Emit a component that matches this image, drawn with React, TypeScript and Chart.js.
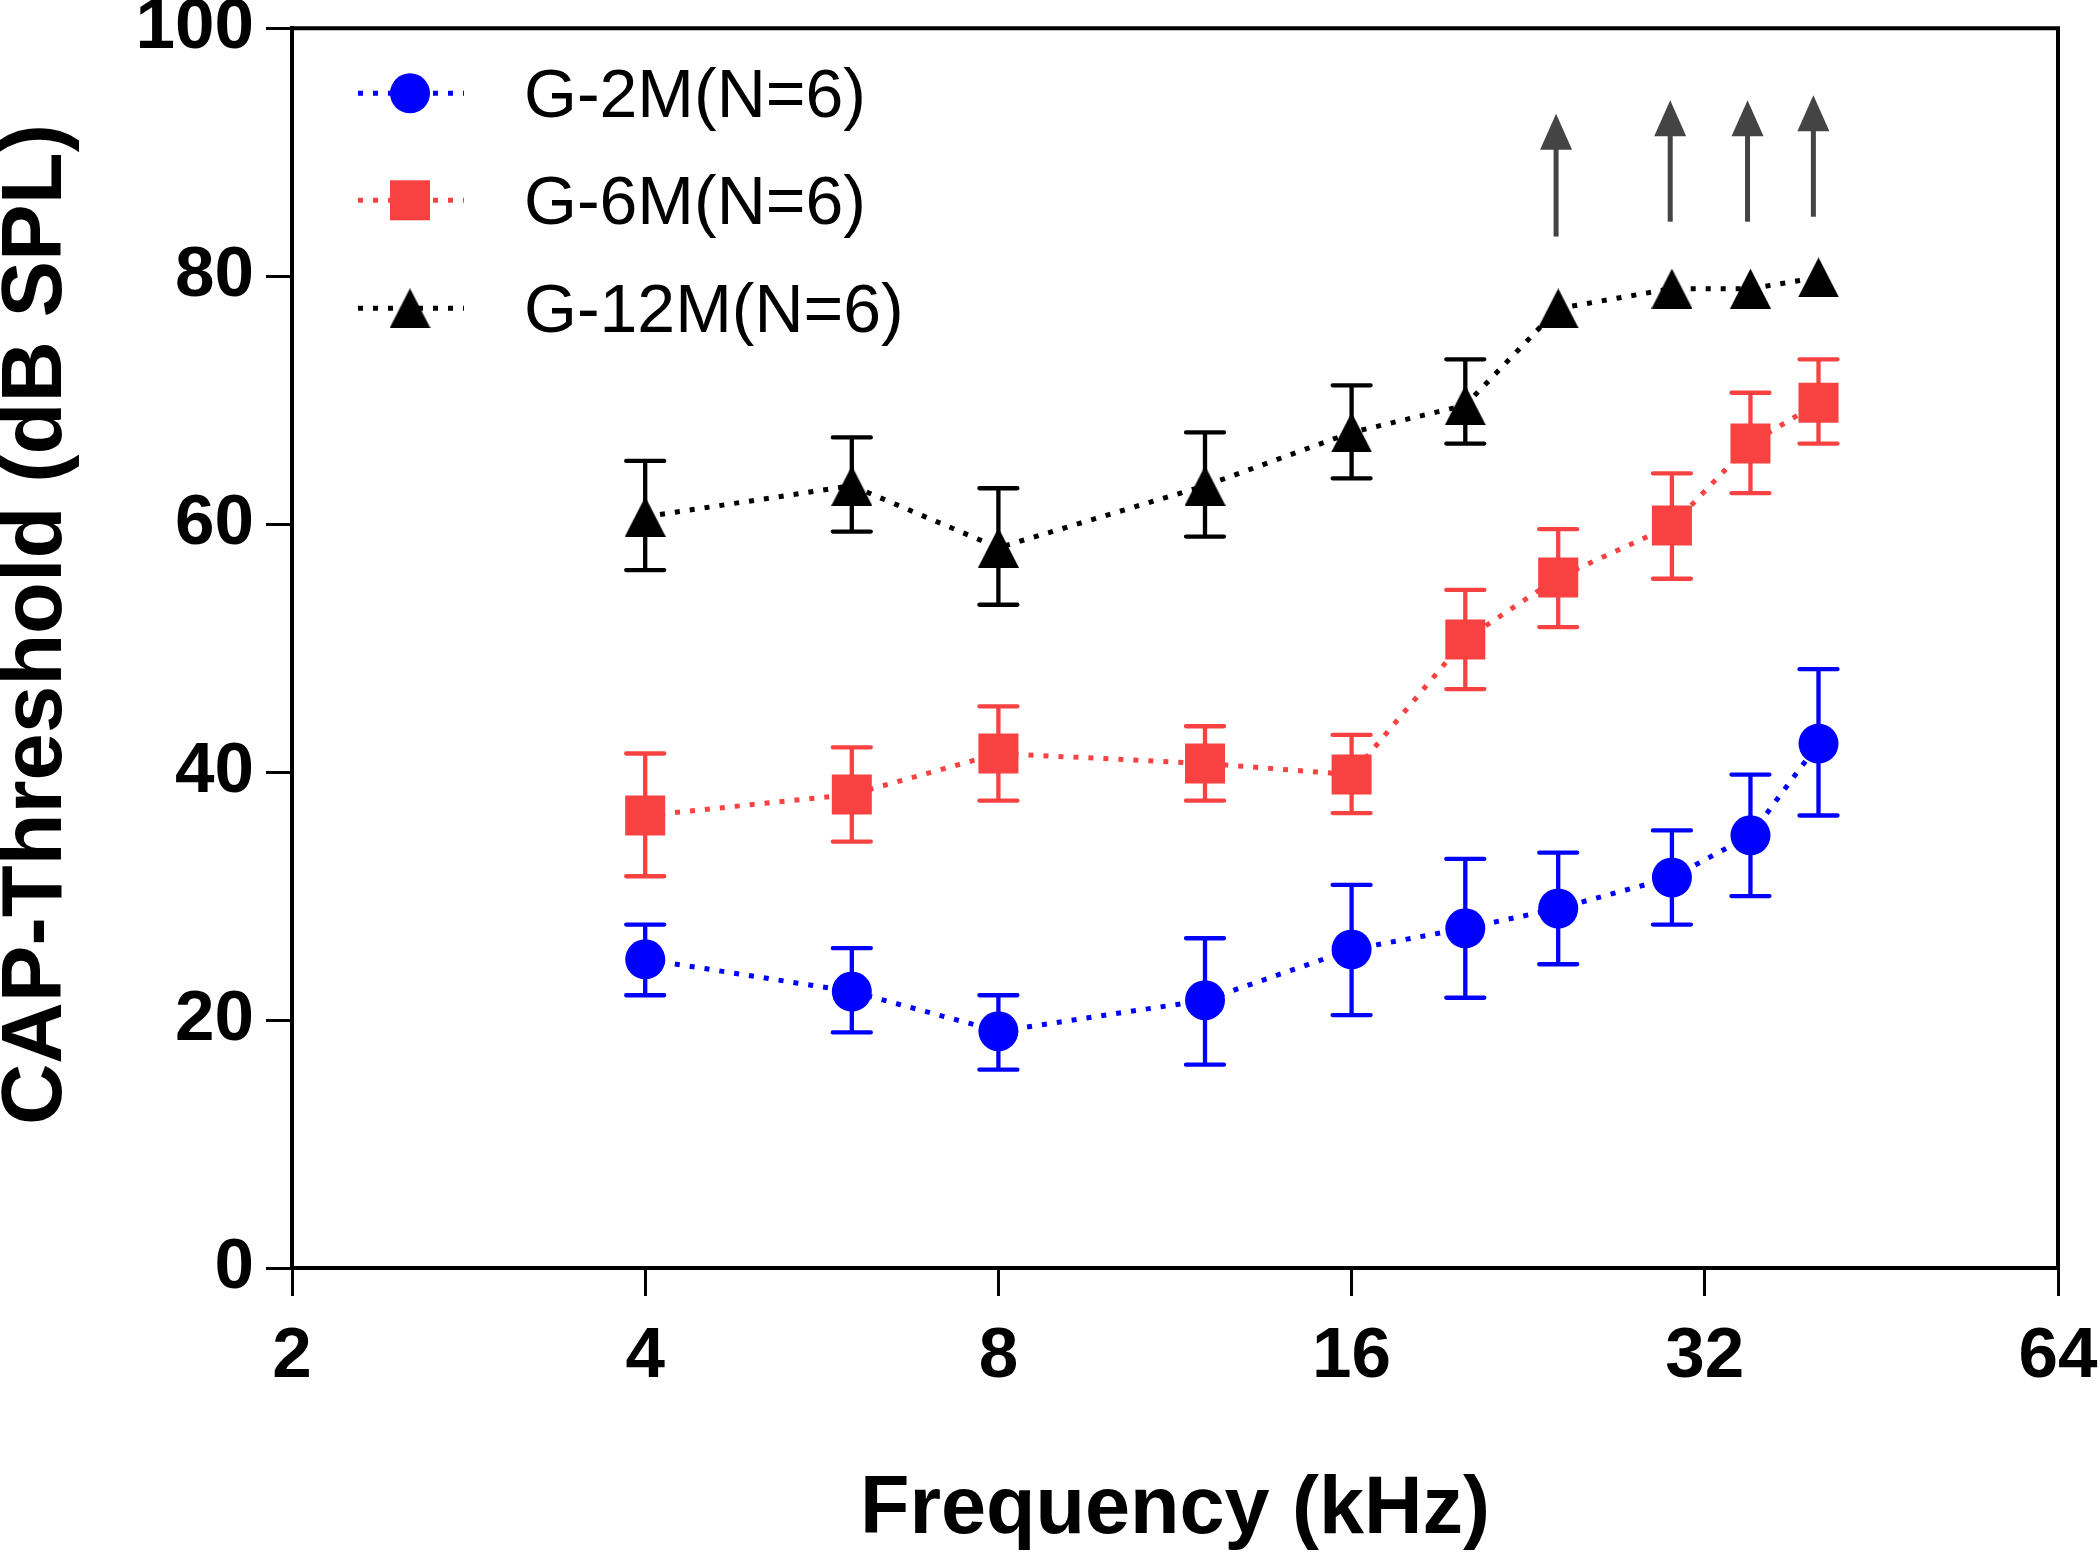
import React, { useEffect, useRef } from "react";
import { Chart, registerables } from "chart.js";

Chart.register(...registerables);

// ---------- data ----------
const frequencies = [4, 6, 8, 12, 16, 20, 24, 30, 35, 40];
const xTicks = [2, 4, 8, 16, 32, 64];
const yTicks = [0, 20, 40, 60, 80, 100];

const seriesLabels = ["G-2M(N=6)", "G-6M(N=6)", "G-12M(N=6)"];

const g2mMean = [24.9, 22.3, 19.1, 21.6, 25.7, 27.4, 29.0, 31.5, 34.9, 42.3];
const g2mHigh = [27.7, 25.8, 22.0, 26.6, 30.9, 33.0, 33.5, 35.3, 39.8, 48.3];
const g2mLow = [22.0, 19.0, 16.0, 16.4, 20.4, 21.8, 24.5, 27.7, 30.0, 36.5];

const g6mMean = [36.5, 38.2, 41.5, 40.7, 39.8, 50.7, 55.7, 59.9, 66.5, 69.8];
const g6mHigh = [41.5, 42.0, 45.3, 43.7, 43.0, 54.7, 59.6, 64.1, 70.6, 73.3];
const g6mLow = [31.6, 34.4, 37.7, 37.7, 36.7, 46.7, 51.7, 55.6, 62.5, 66.5];

const g12mMean = [60.6, 63.1, 58.1, 63.1, 67.4, 69.6, 77.4, 79.0, 79.0, 79.9];
const g12mHigh = [65.1, 67.0, 62.9, 67.4, 71.2, 73.3, null, null, null, null];
const g12mLow = [56.3, 59.4, 53.5, 59.0, 63.7, 66.5, null, null, null, null];

// upward arrows (threshold above measurable range)
const arrowFreq = [23.9, 29.9, 34.8, 39.6];
const arrowBase = [83.2, 84.4, 84.4, 84.8];
const arrowTip = [93.1, 94.2, 94.2, 94.6];

const BLUE = "#0000FF";
const RED = "#F84242";
const BLACK = "#000000";
const ARROW = "#444444";
const FONT = "'Liberation Sans', Arial, sans-serif";

function makeTriangle(): HTMLCanvasElement {
  const c = document.createElement("canvas");
  c.width = 41;
  c.height = 40;
  const g = c.getContext("2d")!;
  g.fillStyle = BLACK;
  g.beginPath();
  g.moveTo(20.5, 0);
  g.lineTo(41, 40);
  g.lineTo(0, 40);
  g.closePath();
  g.fill();
  return c;
}

const errorBarPlugin = {
  id: "errorBars",
  beforeDatasetsDraw(chart: any) {
    const { ctx, scales } = chart;
    const x = scales.x;
    const y = scales.y;
    chart.data.datasets.forEach((ds: any) => {
      ctx.save();
      ctx.strokeStyle = ds.borderColor;
      ctx.lineWidth = 4.3;
      ctx.lineCap = "round";
      frequencies.forEach((f, i) => {
        const hi = ds.errHigh[i];
        const lo = ds.errLow[i];
        if (hi == null || lo == null) return;
        const px = x.getPixelForValue(f);
        const yh = y.getPixelForValue(hi);
        const yl = y.getPixelForValue(lo);
        const cap = 19;
        ctx.beginPath();
        ctx.moveTo(px, yh);
        ctx.lineTo(px, yl);
        ctx.moveTo(px - cap, yh);
        ctx.lineTo(px + cap, yh);
        ctx.moveTo(px - cap, yl);
        ctx.lineTo(px + cap, yl);
        ctx.stroke();
      });
      ctx.restore();
    });
  },
};

const arrowPlugin = {
  id: "arrows",
  afterDatasetsDraw(chart: any) {
    const { ctx, scales } = chart;
    const x = scales.x;
    const y = scales.y;
    ctx.save();
    ctx.strokeStyle = ARROW;
    ctx.fillStyle = ARROW;
    ctx.lineWidth = 5;
    arrowFreq.forEach((f, i) => {
      const px = x.getPixelForValue(f);
      const yb = y.getPixelForValue(arrowBase[i]);
      const yt = y.getPixelForValue(arrowTip[i]);
      const headLen = 36;
      const headHalf = 16;
      ctx.beginPath();
      ctx.moveTo(px, yb);
      ctx.lineTo(px, yt + headLen - 1);
      ctx.stroke();
      ctx.beginPath();
      ctx.moveTo(px, yt);
      ctx.lineTo(px + headHalf, yt + headLen);
      ctx.lineTo(px - headHalf, yt + headLen);
      ctx.closePath();
      ctx.fill();
    });
    ctx.restore();
  },
};

const framePlugin = {
  id: "frame",
  afterDraw(chart: any) {
    const { ctx, chartArea } = chart;
    ctx.save();
    ctx.strokeStyle = BLACK;
    ctx.lineWidth = 4;
    ctx.beginPath();
    ctx.moveTo(chartArea.left - 2, chartArea.top);
    ctx.lineTo(chartArea.right, chartArea.top);
    ctx.lineTo(chartArea.right, chartArea.bottom);
    ctx.stroke();
    ctx.restore();
  },
};

const legendPlugin = {
  id: "customLegend",
  afterDraw(chart: any) {
    const { ctx, chartArea } = chart;
    const rows = [65, 172, 280];
    ctx.save();
    chart.data.datasets.forEach((ds: any, i: number) => {
      const cy = chartArea.top + rows[i];
      const x0 = chartArea.left + 66;
      const x1 = chartArea.left + 172;
      const mx = chartArea.left + 118;
      ctx.strokeStyle = ds.borderColor;
      ctx.lineWidth = 5;
      ctx.setLineDash([5, 10]);
      ctx.beginPath();
      ctx.moveTo(x0, cy);
      ctx.lineTo(x1, cy);
      ctx.stroke();
      ctx.setLineDash([]);
      ctx.fillStyle = ds.backgroundColor;
      const ps = ds.pointStyle;
      if (ps === "circle") {
        ctx.beginPath();
        ctx.arc(mx, cy, 20, 0, Math.PI * 2);
        ctx.fill();
      } else if (ps === "rect") {
        ctx.fillRect(mx - 20, cy - 20, 40, 40);
      } else if (ps && typeof ps === "object") {
        ctx.drawImage(ps, mx - ps.width / 2, cy - ps.height / 2);
      }
      ctx.fillStyle = BLACK;
      ctx.font = `68px ${FONT}`;
      ctx.textAlign = "left";
      ctx.textBaseline = "alphabetic";
      ctx.fillText(ds.label, chartArea.left + 232, cy + 24);
    });
    ctx.restore();
  },
};

export default function App() {
  const ref = useRef<HTMLCanvasElement>(null);

  useEffect(() => {
    const tri = makeTriangle();
    const toPts = (vals: number[]) => frequencies.map((f, i) => ({ x: f, y: vals[i] }));
    const common = {
      showLine: true,
      borderWidth: 5,
      borderDash: [5, 10],
      tension: 0,
      fill: false,
    };
    const chart = new Chart(ref.current!, {
      type: "line",
      data: {
        datasets: [
          {
            ...common,
            label: seriesLabels[0],
            data: toPts(g2mMean),
            borderColor: BLUE,
            backgroundColor: BLUE,
            pointBackgroundColor: BLUE,
            pointBorderColor: BLUE,
            pointBorderWidth: 0,
            pointStyle: "circle",
            pointRadius: 20,
            errHigh: g2mHigh,
            errLow: g2mLow,
          } as any,
          {
            ...common,
            label: seriesLabels[1],
            data: toPts(g6mMean),
            borderColor: RED,
            backgroundColor: RED,
            pointBackgroundColor: RED,
            pointBorderColor: RED,
            pointBorderWidth: 0,
            pointStyle: "rect",
            pointRadius: 28.3,
            errHigh: g6mHigh,
            errLow: g6mLow,
          } as any,
          {
            ...common,
            label: seriesLabels[2],
            data: toPts(g12mMean as number[]),
            borderColor: BLACK,
            backgroundColor: BLACK,
            pointBackgroundColor: BLACK,
            pointBorderColor: BLACK,
            pointBorderWidth: 0,
            pointStyle: tri,
            pointRadius: 20,
            errHigh: g12mHigh,
            errLow: g12mLow,
          } as any,
        ],
      },
      options: {
        responsive: false,
        animation: false,
        devicePixelRatio: 1,
        layout: { padding: { left: 0, top: 28, right: 42, bottom: 0 } },
        plugins: {
          legend: { display: false },
          tooltip: { enabled: false },
        },
        scales: {
          x: {
            type: "logarithmic",
            min: 2,
            max: 64,
            afterBuildTicks: (scale: any) => {
              scale.ticks = xTicks.map((v) => ({ value: v }));
            },
            afterFit: (scale: any) => {
              scale.height = 284;
              scale.paddingLeft = 0;
              scale.paddingRight = 0;
            },
            border: { display: true, color: BLACK, width: 4 },
            grid: {
              drawOnChartArea: false,
              drawTicks: true,
              tickLength: 28,
              tickWidth: 3,
              tickColor: BLACK,
              color: BLACK,
              lineWidth: 3,
            },
            ticks: {
              autoSkip: false,
              maxRotation: 0,
              padding: 19,
              color: BLACK,
              font: { family: FONT, size: 71, weight: "bold" },
              callback: (v: any) => String(v),
            },
            title: {
              display: true,
              text: "Frequency (kHz)",
              color: BLACK,
              font: { family: FONT, size: 81, weight: "bold", lineHeight: 1 },
              padding: { top: 0, bottom: 1 },
            },
          },
          y: {
            type: "linear",
            min: 0,
            max: 100,
            afterBuildTicks: (scale: any) => {
              scale.ticks = yTicks.map((v) => ({ value: v }));
            },
            afterFit: (scale: any) => {
              scale.width = 292;
              scale.paddingTop = 0;
              scale.paddingBottom = 0;
            },
            border: { display: true, color: BLACK, width: 4 },
            grid: {
              drawOnChartArea: false,
              drawTicks: true,
              tickLength: 26,
              tickWidth: 3,
              tickColor: BLACK,
              color: BLACK,
              lineWidth: 3,
            },
            ticks: {
              padding: 12,
              color: BLACK,
              font: { family: FONT, size: 71, weight: "bold" },
              callback: (v: any) => String(v),
            },
            title: {
              display: true,
              text: "\u00A0\u00A0CAP-Threshold (dB SPL)",
              color: BLACK,
              font: { family: FONT, size: 85, weight: "bold", lineHeight: 0.88 },
              padding: { top: 0, bottom: 0 },
            },
          },
        },
      },
      plugins: [errorBarPlugin, arrowPlugin, framePlugin, legendPlugin],
    } as any);
    return () => chart.destroy();
  }, []);

  return (
    <div style={{ position: "absolute", left: 0, top: 0, width: 2100, height: 1552, background: "#fff" }}>
      <canvas ref={ref} width={2100} height={1552} style={{ display: "block", width: 2100, height: 1552 }} />
    </div>
  );
}
